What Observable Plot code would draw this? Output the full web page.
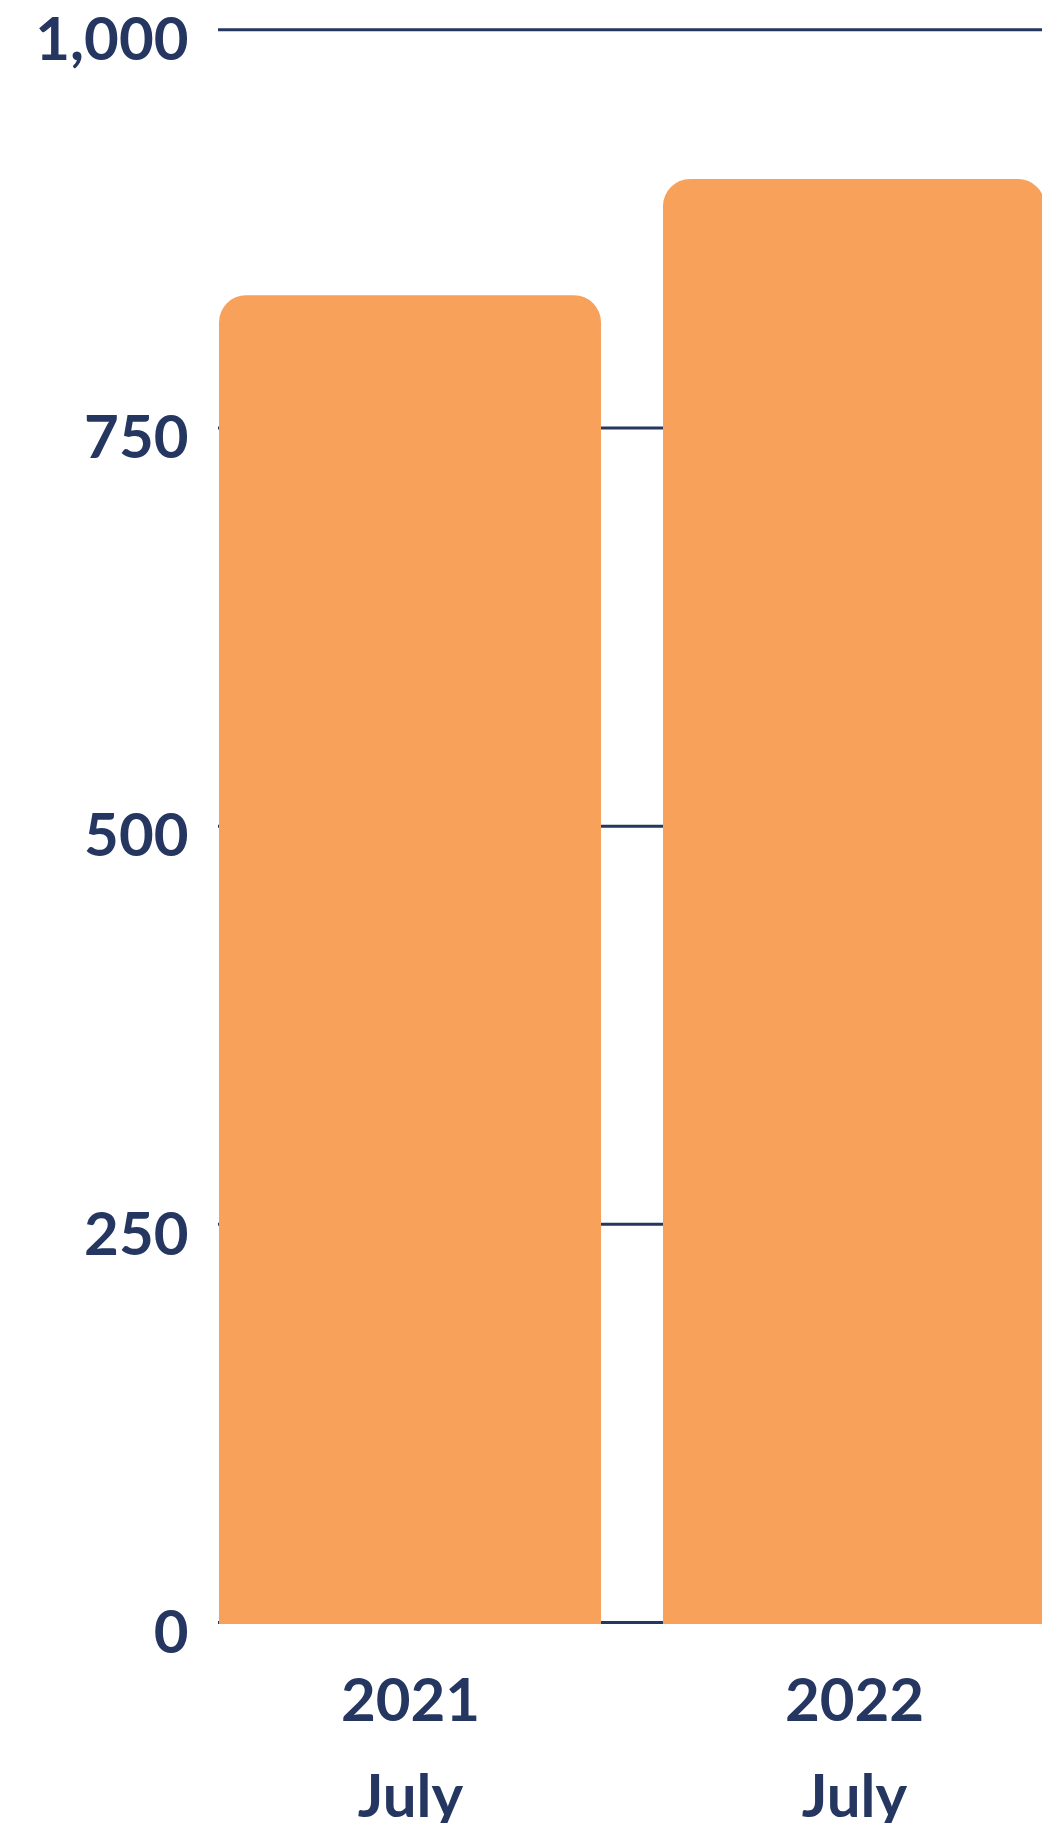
<!DOCTYPE html>
<html>
<head>
<meta charset="utf-8">
<script src="https://cdn.jsdelivr.net/npm/d3@7"></script>
<script src="https://cdn.jsdelivr.net/npm/@observablehq/plot@0.6"></script>
<style>
  html, body { margin: 0; padding: 0; background: #ffffff; overflow: hidden; }
  #chart svg { display: block; }
</style>
</head>
<body>
<div id="chart"></div>
<script>
// Data
const years = ["2021", "2022"];
const months = ["July", "July"];
const values = [833, 906];
const yTicks = [0, 250, 500, 750, 1000];

const navy = "#253761";
const orange = "#F7A15A";

const rows = years.map((y, i) => ({year: y, month: months[i], value: values[i]}));

const chart = Plot.plot({
  width: 1042,
  height: 1823,
  marginTop: 29,
  marginBottom: 201,
  marginLeft: 218,
  marginRight: 0,
  style: {fontFamily: "Lato, 'Open Sans', sans-serif", color: navy, background: "#ffffff", overflow: "hidden"},
  x: {domain: years, range: [218.5, 1046], paddingInner: 0.139, paddingOuter: 0, label: null},
  y: {domain: [0, 1000], range: [1622, 29.3], label: null},
  marks: [
    Plot.ruleY(yTicks, {stroke: navy, strokeWidth: 3}),
    Plot.barY(rows, {x: "year", y: "value", fill: orange, rx: 27}),
    Plot.barY(rows, {x: "year", y1: 0, y2: d => d.value / 2, fill: orange, insetBottom: -2}),
    Plot.axisY({
      ticks: yTicks,
      label: null,
      tickSize: 0,
      tickPadding: 30,
      tickFormat: d3.format(","),
      fontSize: 60,
      fontWeight: 700,
      dy: 11,
      fill: navy
    }),
    Plot.axisX({
      label: null,
      tickSize: 0,
      tickPadding: 30,
      tickFormat: d => `${d}\n${months[years.indexOf(d)]}`,
      fontSize: 60,
      fontWeight: 700,
      lineHeight: 1.6,
      fill: navy
    })
  ]
});

document.getElementById("chart").append(chart);
</script>
</body>
</html>
